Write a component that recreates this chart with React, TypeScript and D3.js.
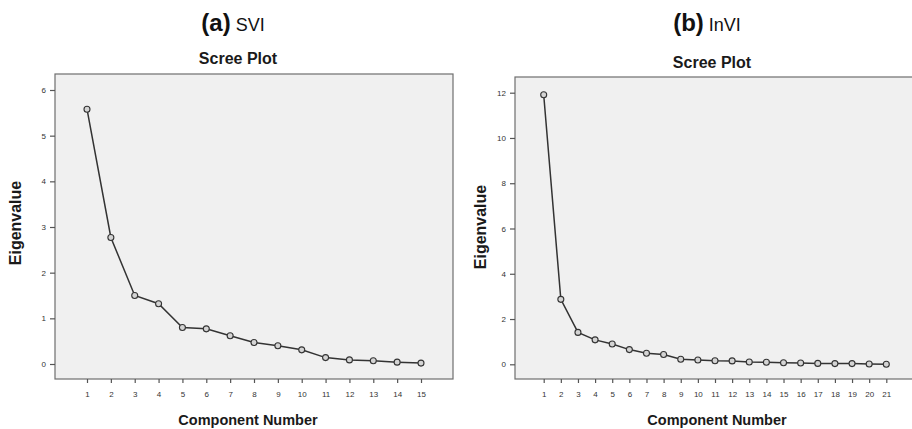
import React, { useEffect, useRef } from 'react';
import * as d3 from 'd3';

// component numbers and eigenvalues
const sviComponents = [1, 2, 3, 4, 5, 6, 7, 8, 9, 10, 11, 12, 13, 14, 15];
const sviEigen = [5.58, 2.77, 1.5, 1.32, 0.8, 0.77, 0.62, 0.47, 0.4, 0.31, 0.14, 0.09, 0.07, 0.04, 0.02];
const sviYTicks = [0, 1, 2, 3, 4, 5, 6];

const invComponents = [1, 2, 3, 4, 5, 6, 7, 8, 9, 10, 11, 12, 13, 14, 15, 16, 17, 18, 19, 20, 21];
const invEigen = [11.91, 2.87, 1.41, 1.08, 0.9, 0.65, 0.49, 0.43, 0.22, 0.19, 0.16, 0.15, 0.1, 0.09, 0.07, 0.06, 0.04, 0.03, 0.03, 0.01, 0.005];
const invYTicks = [0, 2, 4, 6, 8, 10, 12];

const FONT = "'Liberation Sans', Arial, sans-serif";

type Panel = {
  letter: string;
  name: string;
  comps: number[];
  vals: number[];
  yTicks: number[];
  box: [number, number, number, number]; // left, top, right, bottom
  xRange: [number, number];
  yDomain: [number, number];
  yRange: [number, number];
  headX: number;
  titleX: number;
  titleY: number;
  xTitleX: number;
  yTitleX: number;
  yTitleY: number;
};

const panels: Panel[] = [
  {
    letter: '(a)', name: 'SVI', comps: sviComponents, vals: sviEigen, yTicks: sviYTicks,
    box: [55, 74, 453, 379], xRange: [87, 421], yDomain: [0, 6], yRange: [364, 90],
    headX: 233, titleX: 238, titleY: 64, xTitleX: 248, yTitleX: 15, yTitleY: 223,
  },
  {
    letter: '(b)', name: 'InVI', comps: invComponents, vals: invEigen, yTicks: invYTicks,
    box: [515, 77, 920, 379], xRange: [543.7, 886.3], yDomain: [0, 12], yRange: [364.3, 92.7],
    headX: 707, titleX: 712, titleY: 68, xTitleX: 717, yTitleX: 480, yTitleY: 227,
  },
];

const App = () => {
  const svgRef = useRef<SVGSVGElement>(null);

  useEffect(() => {
    const svg = d3.select(svgRef.current);
    svg.selectAll('*').remove();

    panels.forEach(p => {
      const g = svg.append('g');
      const [bl, bt, br, bb] = p.box;

      const x = d3.scaleLinear().domain([p.comps[0], p.comps[p.comps.length - 1]]).range(p.xRange);
      const y = d3.scaleLinear().domain(p.yDomain).range(p.yRange);

      // heading "(a) SVI"
      const head = g.append('text')
        .attr('x', p.headX)
        .attr('y', 31)
        .attr('text-anchor', 'middle')
        .attr('font-family', FONT)
        .attr('fill', '#111');
      head.append('tspan').attr('font-weight', 'bold').attr('font-size', 24).text(p.letter);
      head.append('tspan').attr('font-size', 18).attr('dx', 5).text(p.name);

      g.append('text')
        .attr('x', p.titleX)
        .attr('y', p.titleY)
        .attr('text-anchor', 'middle')
        .attr('font-family', FONT)
        .attr('font-weight', 'bold')
        .attr('font-size', 16)
        .attr('fill', '#1a1a1a')
        .text('Scree Plot');

      // plot frame
      g.append('rect')
        .attr('x', bl).attr('y', bt)
        .attr('width', br - bl).attr('height', bb - bt)
        .attr('fill', '#f0f0f0')
        .attr('stroke', '#6e6e6e')
        .attr('stroke-width', 1.2);

      // y axis ticks
      const yAxis = g.append('g').attr('transform', `translate(${bl},0)`)
        .call(d3.axisLeft(y).tickValues(p.yTicks).tickSize(5).tickPadding(4).tickFormat(d3.format('d')));
      yAxis.select('.domain').remove();
      yAxis.selectAll('line').attr('stroke', '#555').attr('stroke-width', 1.2);
      yAxis.selectAll('text').attr('font-family', FONT).attr('font-size', 8).attr('fill', '#333');

      // x axis ticks
      const xAxis = g.append('g').attr('transform', `translate(0,${bb})`)
        .call(d3.axisBottom(x).tickValues(p.comps).tickSize(4).tickPadding(8).tickFormat(d3.format('d')));
      xAxis.select('.domain').remove();
      xAxis.selectAll('line').attr('stroke', '#555').attr('stroke-width', 1.2);
      xAxis.selectAll('text').attr('font-family', FONT).attr('font-size', 8).attr('fill', '#333');

      // scree line
      const line = d3.line<number>()
        .x((d, i) => x(p.comps[i]))
        .y(d => y(d));
      g.append('path')
        .datum(p.vals)
        .attr('d', line)
        .attr('fill', 'none')
        .attr('stroke', '#333')
        .attr('stroke-width', 1.5);

      g.selectAll('circle.pt')
        .data(p.vals)
        .enter()
        .append('circle')
        .attr('class', 'pt')
        .attr('cx', (d, i) => x(p.comps[i]))
        .attr('cy', d => y(d))
        .attr('r', 3)
        .attr('fill', '#d4d4d4')
        .attr('stroke', '#333')
        .attr('stroke-width', 1.1);

      g.append('text')
        .attr('x', p.xTitleX)
        .attr('y', 425)
        .attr('text-anchor', 'middle')
        .attr('font-family', FONT)
        .attr('font-weight', 'bold')
        .attr('font-size', 14.5)
        .attr('fill', '#1a1a1a')
        .text('Component Number');

      g.append('text')
        .attr('transform', `translate(${p.yTitleX + 5.5},${p.yTitleY}) rotate(-90)`)
        .attr('text-anchor', 'middle')
        .attr('font-family', FONT)
        .attr('font-weight', 'bold')
        .attr('font-size', 16)
        .attr('fill', '#1a1a1a')
        .text('Eigenvalue');
    });
  }, []);

  return (
    <svg
      ref={svgRef}
      width={912}
      height={429}
      style={{ position: 'absolute', left: 0, top: 0, background: '#fff' }}
    />
  );
};

export default App;
